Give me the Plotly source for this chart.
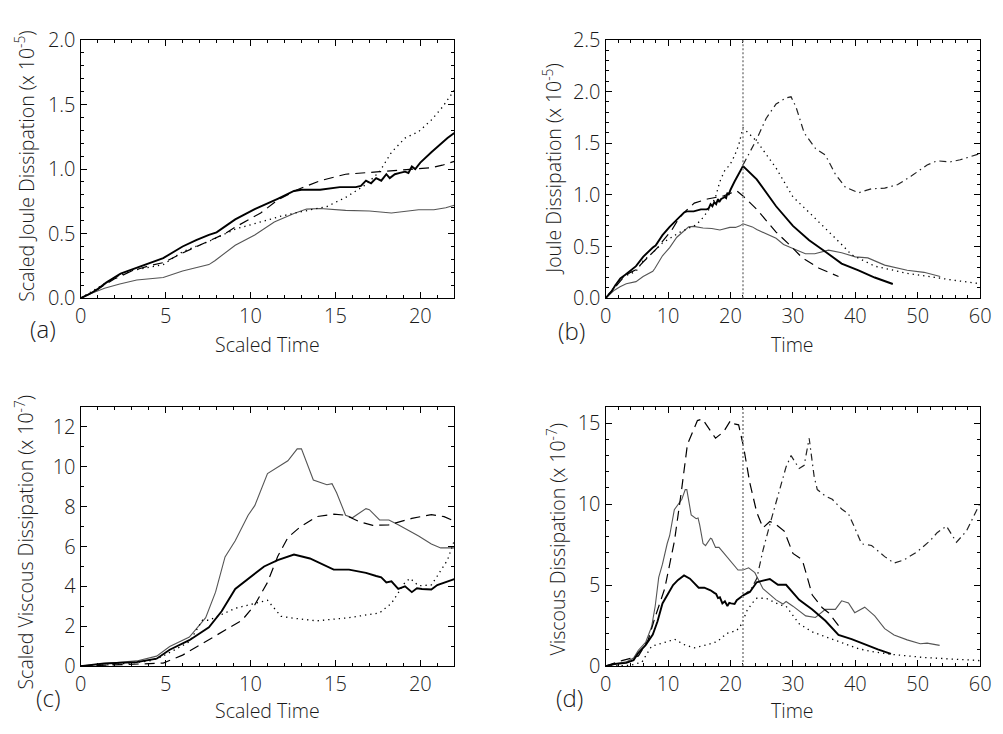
import plotly.graph_objects as go

W, H = 1003, 734

# ---------------- Panel (a): Scaled Joule dissipation vs scaled time ----------------
a_thick_t = [0, 0.5, 1, 1.5, 2.35, 3.1, 4, 4.86, 6.0, 6.8, 7.55, 8, 9.1, 10.25, 11.6, 12.56, 13, 14.1, 15.26,
             16.2, 16.5, 16.8, 17.1, 17.4, 17.7, 18.0, 18.2, 18.5, 18.8, 19.1, 19.3, 19.5, 19.7, 20, 20.65, 21.0,
             21.3, 21.6, 22]
a_thick_v = [0, 0.03, 0.07, 0.12, 0.19, 0.225, 0.27, 0.31, 0.40, 0.45, 0.49, 0.51, 0.61, 0.69, 0.77, 0.83, 0.84,
             0.84, 0.86, 0.86, 0.87, 0.91, 0.89, 0.93, 0.91, 0.96, 0.93, 0.96, 0.97, 0.98, 0.97, 1.02, 1.0, 1.05,
             1.13, 1.17, 1.21, 1.24, 1.28]
a_thin_t = [0, 0.5, 1.4, 2.3, 3.3, 4.86, 6, 7.55, 7.9, 9.1, 10.25, 11.4, 12.56, 13.3, 14.1, 15.6, 17, 18.3, 19.9,
            20.8, 21.5, 22]
a_thin_v = [0, 0.03, 0.077, 0.11, 0.14, 0.16, 0.21, 0.26, 0.29, 0.41, 0.49, 0.59, 0.655, 0.69, 0.695, 0.68, 0.675,
            0.66, 0.685, 0.685, 0.70, 0.72]
a_dash_t = [0, 1, 2, 3, 4, 4.86, 6, 7.2, 8.5, 9.1, 10.6, 11.6, 12.75, 14.1, 15.6, 17.6, 19.5, 20.65, 21.3, 22]
a_dash_v = [0, 0.07, 0.15, 0.21, 0.25, 0.275, 0.35, 0.42, 0.50, 0.55, 0.66, 0.76, 0.84, 0.91, 0.96, 0.98, 1.0,
            1.01, 1.03, 1.06]
a_dot_t = [0, 1, 2, 2.9, 4, 4.86, 6, 7.55, 9.1, 10.25, 11.8, 13, 14.5, 15.6, 16.8, 17.6, 18.3, 19.1, 19.9, 20.65,
           21.3, 22]
a_dot_v = [0, 0.08, 0.16, 0.21, 0.24, 0.26, 0.36, 0.44, 0.535, 0.58, 0.635, 0.67, 0.71, 0.78, 0.88, 0.98, 1.13,
           1.24, 1.29, 1.38, 1.48, 1.61]

# ---------------- Panel (b): Joule dissipation vs time ----------------
b_thick_t = a_thick_t + [24.2, 27.3, 30, 32.6, 35.2, 37.8, 40.5, 43.1, 46]
b_thick_v = a_thick_v + [1.15, 0.89, 0.70, 0.56, 0.45, 0.335, 0.27, 0.2, 0.137]
b_thin_t = a_thin_t + [23.5, 24.2, 27.3, 28.5, 30, 32, 33.5, 35.7, 37.8, 40, 42, 44.7, 48.3, 51, 53.6]
b_thin_v = a_thin_v + [0.69, 0.665, 0.58, 0.52, 0.48, 0.43, 0.43, 0.465, 0.44, 0.40, 0.39, 0.32, 0.27, 0.25, 0.21]
b_dash_t = [0, 1, 2, 3, 4, 4.86, 6, 7.2, 8.5, 9.1, 10.6, 11.6, 12.75, 14.2, 16.3, 18.9, 21, 22, 24.2, 27.3, 29.4,
            31.5, 34.2, 37.3]
b_dash_v = [0, 0.07, 0.15, 0.21, 0.25, 0.275, 0.35, 0.42, 0.50, 0.55, 0.66, 0.76, 0.84, 0.92, 0.96, 0.99, 1.04,
            0.99, 0.86, 0.64, 0.52, 0.39, 0.29, 0.21]
b_dot_t = a_dot_t + [24.2, 27.3, 30, 32.6, 35.2, 37.8, 39.4, 43.1, 48.3, 53.6, 56.2, 60]
b_dot_v = a_dot_v[:-1] + [1.65] + [1.52, 1.26, 0.98, 0.83, 0.68, 0.52, 0.42, 0.31, 0.24, 0.19, 0.17, 0.14]
b_dashdot_t = [22, 23.2, 24.2, 25.7, 27.3, 28.9, 29.7, 30.5, 31.8, 33.6, 35.2, 36.8, 38.4, 40.5, 42.6, 44.7, 46.8,
               48.9, 51.5, 53.1, 55.2, 56.8, 60]
b_dashdot_v = [1.29, 1.42, 1.54, 1.74, 1.88, 1.94, 1.95, 1.85, 1.60, 1.45, 1.385, 1.2, 1.075, 1.02, 1.06, 1.065,
               1.1, 1.18, 1.29, 1.33, 1.32, 1.34, 1.40]

# ---------------- Panel (c): Scaled viscous dissipation vs scaled time ----------------
c_thin_t = [0, 1.39, 3.3, 4.47, 5.24, 6.4, 7.36, 7.94, 8.5, 9.1, 9.86, 10.25, 11.0, 11.6, 12.2, 12.75, 13.0, 13.7,
            14.5, 14.8, 15.07, 15.6, 16.0, 16.8, 17.0, 17.6, 18.15, 18.7, 19.9, 20.65, 21.2, 22]
c_thin_v = [0, 0.13, 0.26, 0.5, 0.98, 1.46, 2.43, 3.71, 5.48, 6.29, 7.57, 8.05, 9.66, 9.98, 10.3, 10.9, 10.9, 9.34,
            9.1, 9.15, 8.7, 7.57, 7.44, 7.9, 7.85, 7.33, 7.33, 7.09, 6.53, 6.13, 5.93, 5.93]
c_thick_t = [0, 1.39, 3.3, 4.47, 5.24, 6.4, 7.55, 8.3, 9.1, 9.86, 10.8, 11.6, 12.56, 13.5, 14.3, 14.9, 15.8, 16.8,
             17.4, 17.7, 18.0, 18.3, 18.7, 19.1, 19.5, 19.8, 20.1, 20.65, 21.0, 22]
c_thick_v = [0, 0.13, 0.2, 0.37, 0.82, 1.3, 1.95, 2.75, 3.87, 4.36, 5.0, 5.32, 5.6, 5.4, 5.08, 4.84, 4.84, 4.68,
             4.52, 4.45, 4.2, 4.25, 3.87, 4.0, 3.71, 3.9, 3.87, 3.84, 4.07, 4.36]
c_dash_t = [0, 2, 4, 4.86, 6, 6.8, 7.5, 8.7, 9.5, 10.25, 11.0, 11.6, 12.2, 12.95, 13.9, 14.9, 15.6, 16.4, 17.2,
            18.15, 19.5, 20.65, 21.4, 22]
c_dash_v = [0, 0.05, 0.12, 0.15, 0.55, 0.96, 1.3, 1.93, 2.3, 3.07, 4.2, 5.5, 6.45, 7.0, 7.5, 7.62, 7.57, 7.25,
            7.06, 7.09, 7.41, 7.6, 7.5, 7.28]
c_dot_t = [0, 2, 4, 4.6, 5.5, 6.4, 7.17, 7.55, 9.1, 10.25, 11.0, 11.8, 12.56, 13.9, 15.8, 17.6, 18.3, 19.1, 19.4,
           19.9, 20.65, 21.0, 21.6, 22]
c_dot_v = [0, 0.08, 0.25, 0.4, 0.8, 1.22, 2.3, 2.3, 2.9, 3.15, 3.3, 2.5, 2.4, 2.27, 2.43, 2.67, 3.15, 4.2, 4.4,
           4.03, 4.07, 4.52, 5.32, 6.29]

# ---------------- Panel (d): Viscous dissipation vs time ----------------
d_thin_t = c_thin_t + [22.9, 23.9, 25.2, 27.3, 28.4, 28.9, 30, 32.05, 33.6, 35.2, 36.8, 37.8, 38.9, 39.9, 41.5,
                       43.1, 44.7, 46.2, 48.3, 50.4, 51.5, 53.5]
d_thin_v = c_thin_v + [6.07, 5.77, 4.78, 4.09, 3.83, 3.99, 3.7, 3.1, 3.0, 3.5, 3.5, 4.03, 3.9, 3.3, 3.64, 3.1,
                       2.31, 1.92, 1.62, 1.38, 1.42, 1.28]
d_thick_t = c_thick_t + [23.1, 24.2, 25.2, 26.3, 27.6, 28.9, 31, 33.1, 35.2, 37.3, 39.4, 41.5, 43.6, 45.7]
d_thick_v = c_thick_v + [4.58, 5.18, 5.28, 5.38, 5.02, 5.02, 4.09, 3.5, 2.8, 1.92, 1.66, 1.32, 1.03, 0.75]
d_dash_t = [0, 2.6, 4.7, 5.25, 6.8, 7.9, 9.46, 11.03, 12.1, 13.1, 14.7, 15.5, 16.55, 17.6, 18.9, 20, 20.5, 21.3,
            22.07, 23.1, 24.2, 25.2, 26.3, 27.3, 28.6, 30, 31.5, 33.1, 34.7, 35.7, 37.3]
d_dash_v = [0, 0.34, 0.55, 0.63, 1.6, 3.0, 4.78, 7.75, 10.7, 13.7, 15.16, 15.26, 14.66, 14.07, 14.47, 15.16,
            14.96, 14.9, 13.58, 11.3, 9.5, 8.54, 8.93, 8.74, 8.34, 6.96, 6.56, 4.39, 3.6, 3.3, 2.5]
d_dot_t = [0, 4, 5.8, 7.36, 10, 11.03, 12.6, 14.2, 16.3, 17.9, 19.4, 21, 21.8, 22.6, 23.5, 24.2, 25.7, 27.85, 28.9,
           31, 33.1, 35.2, 37.8, 40.5, 43.1, 45.7, 51, 56.2, 60]
d_dot_v = [0, 0.05, 0.24, 1.23, 1.52, 1.66, 1.32, 1.13, 1.32, 1.52, 2.02, 2.2, 2.6, 3.4, 3.9, 4.19, 4.19, 3.79,
           3.7, 2.61, 2.11, 1.82, 1.42, 1.07, 0.87, 0.73, 0.53, 0.4, 0.34]
d_dashdot_t = [22, 23.2, 24.2, 25.2, 26.3, 27.85, 28.9, 29.7, 30.5, 31, 31.8, 32.6, 33.4, 33.9, 35.2, 36.3, 37.8,
               38.9, 39.9, 41, 42.6, 44.7, 46.2, 47.8, 49.9, 52, 53.1, 54.6, 56.2, 57.8, 60]
d_dashdot_v = [4.36, 4.7, 5.4, 7.15, 8.74, 10.9, 12.3, 13.0, 12.5, 12.2, 12.4, 14.07, 11.7, 10.9, 10.5, 10.3, 9.7,
               9.4, 8.54, 7.55, 7.45, 6.76, 6.36, 6.56, 7.06, 7.75, 8.24, 8.64, 7.65, 8.34, 10.08]

marker_time = 22  # vertical reference line in panels (b) and (d)

# ---------------- styles ----------------
FONT = "'Open Sans', 'DejaVu Sans', sans-serif"
TXT = "#1a1a1a"
S_THICK = dict(color="black", width=1.9)
S_THIN = dict(color="#555555", width=1.1)
S_DASH = dict(color="black", width=1.2, dash="10px,6px")
S_DOT = dict(color="black", width=1.3, dash="1.3px,4px")
S_DASHDOT = dict(color="#222222", width=1.2, dash="7px,4px,1.5px,4px")

fig = go.Figure()


def add(t, v, style, ax):
    fig.add_trace(go.Scatter(x=t, y=v, mode="lines", line=style, xaxis="x" + ax, yaxis="y" + ax,
                             showlegend=False, hoverinfo="skip"))


add(a_thin_t, a_thin_v, S_THIN, "")
add(a_dash_t, a_dash_v, S_DASH, "")
add(a_dot_t, a_dot_v, S_DOT, "")
add(a_thick_t, a_thick_v, S_THICK, "")

add(b_thin_t, b_thin_v, S_THIN, "2")
add(b_dash_t, b_dash_v, S_DASH, "2")
add(b_dot_t, b_dot_v, S_DOT, "2")
add(b_dashdot_t, b_dashdot_v, S_DASHDOT, "2")
add(b_thick_t, b_thick_v, S_THICK, "2")

add(c_thin_t, c_thin_v, S_THIN, "3")
add(c_dash_t, c_dash_v, S_DASH, "3")
add(c_dot_t, c_dot_v, S_DOT, "3")
add(c_thick_t, c_thick_v, S_THICK, "3")

add(d_thin_t, d_thin_v, S_THIN, "4")
add(d_dash_t, d_dash_v, S_DASH, "4")
add(d_dot_t, d_dot_v, S_DOT, "4")
add(d_dashdot_t, d_dashdot_v, S_DASHDOT, "4")
add(d_thick_t, d_thick_v, S_THICK, "4")


def px(x):
    return x / W


def py(y):
    return 1 - y / H


LEFT = (76, 456)
RIGHT = (610, 991)
TOP = (27, 295)
BOT = (408, 677)


def axis(dom, rng, dtick, minor, anchor, fmt=None):
    d = dict(domain=dom, range=rng, anchor=anchor, showline=True, linecolor="black", linewidth=1.3,
             mirror="ticks", ticks="inside", ticklen=6, tickwidth=1, tickcolor="black", showgrid=False,
             zeroline=False, dtick=dtick, tick0=0, fixedrange=True,
             minor=dict(ticks="inside", ticklen=3, tickwidth=1, tickcolor="black", dtick=minor, tick0=0,
                        showgrid=False),
             tickfont=dict(family=FONT, size=20, color=TXT, weight=300))
    if fmt:
        d["tickformat"] = fmt
    return d


fig.update_layout(
    width=W, height=H, autosize=False, margin=dict(l=0, r=0, t=0, b=0),
    paper_bgcolor="white", plot_bgcolor="white",
    xaxis=axis([px(LEFT[0]), px(LEFT[1])], [0, 22], 5, 1, "y"),
    yaxis=axis([py(TOP[1]), py(TOP[0])], [0, 2.0], 0.5, 0.1, "x", ".1f"),
    xaxis2=axis([px(RIGHT[0]), px(RIGHT[1])], [0, 60], 10, 2, "y2"),
    yaxis2=axis([py(TOP[1]), py(TOP[0])], [0, 2.5], 0.5, 0.1, "x2", ".1f"),
    xaxis3=axis([px(LEFT[0]), px(LEFT[1])], [0, 22], 5, 1, "y3"),
    yaxis3=axis([py(BOT[1]), py(BOT[0])], [0, 13], 2, 1, "x3"),
    xaxis4=axis([px(RIGHT[0]), px(RIGHT[1])], [0, 60], 10, 2, "y4"),
    yaxis4=axis([py(BOT[1]), py(BOT[0])], [0, 16], 5, 1, "x4"),
)

for xa, ya in (("x2", "y2"), ("x4", "y4")):
    fig.add_shape(type="line", xref=xa, yref=ya + " domain", x0=marker_time, x1=marker_time, y0=0, y1=1,
                  line=dict(color="#8a8a8a", width=1.6, dash="2px,2px"))


def ann(text, x, y, size=18, angle=0):
    fig.add_annotation(text=text, x=px(x), y=py(y), xref="paper", yref="paper", showarrow=False,
                       textangle=angle, xanchor="center", yanchor="middle",
                       font=dict(family=FONT, size=size, color=TXT, weight=300))


# axis titles
ann("Scaled Joule Dissipation (x 10<sup>-5</sup>)", 19, 158, 19.5, -90)
ann("Joule Dissipation (x 10<sup>-5</sup>)", 555, 161, 19.5, -90)
ann("Scaled Viscous Dissipation (x 10<sup>-7</sup>)", 19, 548, 19.5, -90)
ann("Viscous Dissipation (x 10<sup>-7</sup>)", 560, 545, 19.5, -90)
ann("Scaled Time", 266, 343, 19.5)
ann("Time", 800, 343, 19.5)
ann("Scaled Time", 266, 723, 19.5)
ann("Time", 800, 723, 19.5)
# panel letters
ann("(a)", 38, 326, 24)
ann("(b)", 575, 329, 24)
ann("(c)", 43, 710, 24)
ann("(d)", 573, 710, 24)

fig.write_html("out.html")
